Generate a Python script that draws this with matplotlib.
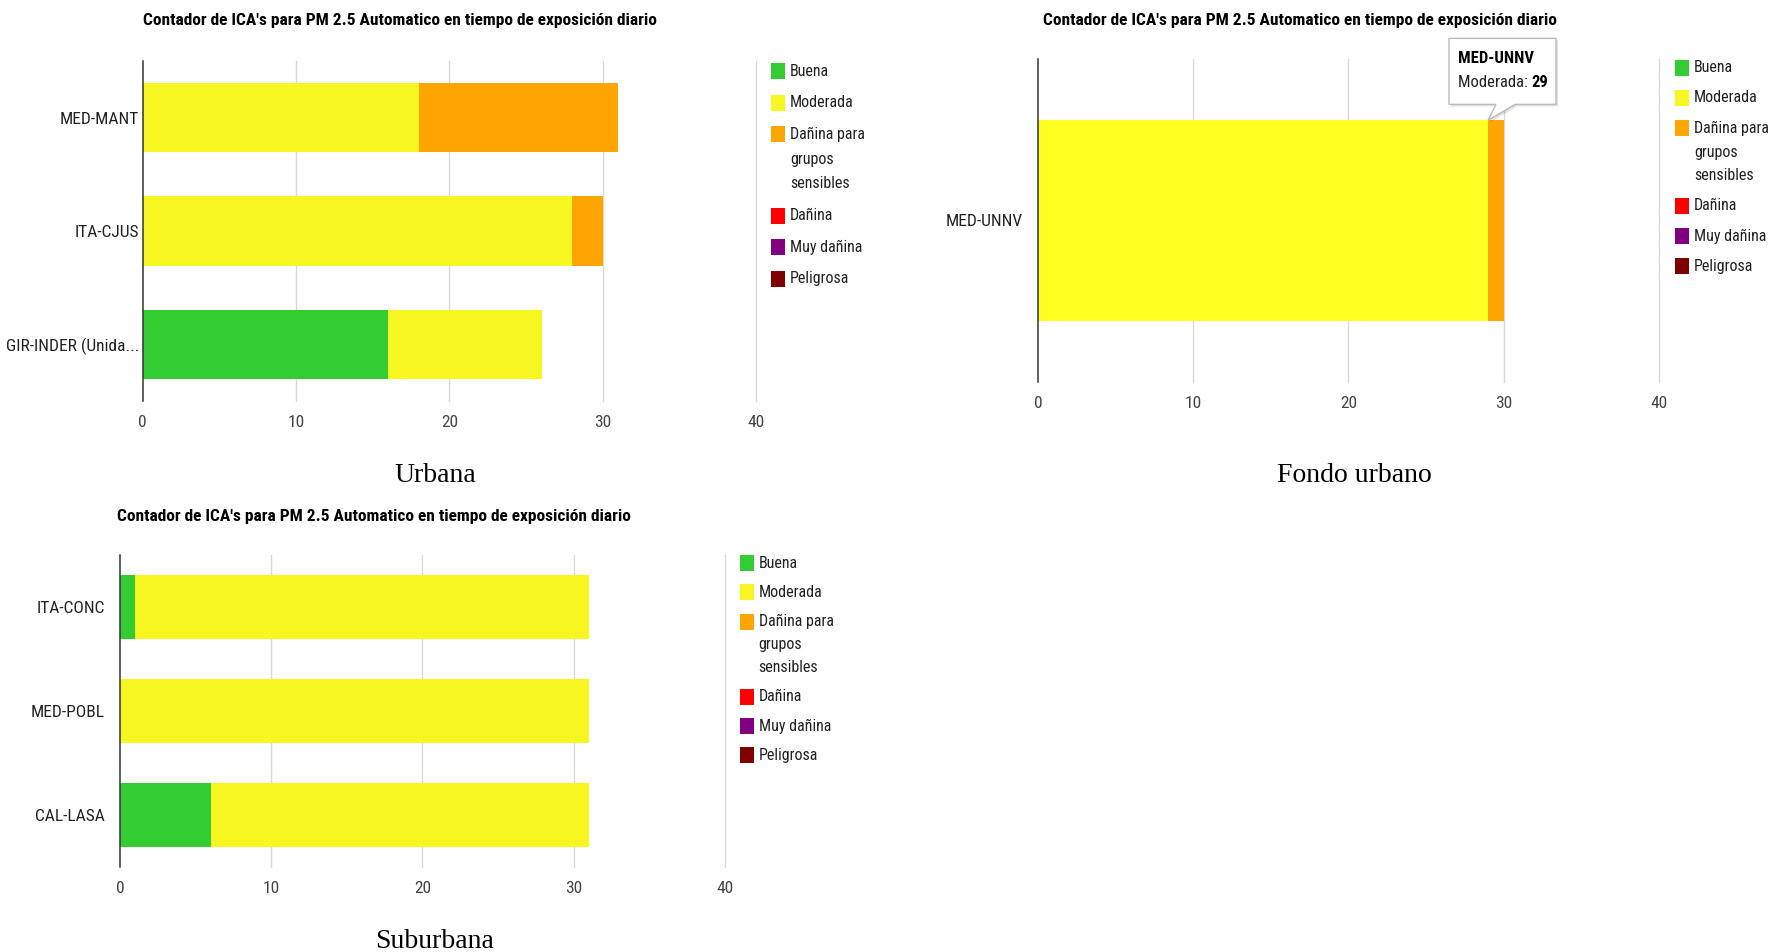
import matplotlib
matplotlib.use('Agg')
import matplotlib.pyplot as plt
import numpy as np
from matplotlib.patches import Rectangle, Polygon
from matplotlib.transforms import IdentityTransform

W, H = 1773, 952
SANS = ['Roboto Condensed', 'Arial Narrow', 'Fira Sans Condensed', 'Liberation Sans']
SERIF = ['Liberation Serif', 'DejaVu Serif']

# ICA categories (legend order) and colours
legend_labels = ['Buena', 'Moderada', 'Dañina para\ngrupos\nsensibles', 'Dañina', 'Muy dañina', 'Peligrosa']
colors = ['#33cc33', '#f6f620', '#ffa500', '#ff0000', '#800080', '#800000']
colors_hover = ['#33cc33', '#ffff22', '#ffa500', '#ff0000', '#800080', '#800000']
title = "Contador de ICA's para PM 2.5 Automatico en tiempo de exposición diario"
xticks = [0, 10, 20, 30, 40]

# Urbana
urb_stations = ['MED-MANT', 'ITA-CJUS', 'GIR-INDER (Unida...']
urb_buena = [0, 0, 16]
urb_moderada = [18, 28, 10]
urb_sensibles = [13, 2, 0]
urb_danina = [0, 0, 0]
urb_muy = [0, 0, 0]
urb_peligrosa = [0, 0, 0]

# Fondo urbano
fon_stations = ['MED-UNNV']
fon_buena = [0]
fon_moderada = [29]
fon_sensibles = [1]
fon_danina = [0]
fon_muy = [0]
fon_peligrosa = [0]

# Suburbana
sub_stations = ['ITA-CONC', 'MED-POBL', 'CAL-LASA']
sub_buena = [1, 0, 6]
sub_moderada = [30, 31, 25]
sub_sensibles = [0, 0, 0]
sub_danina = [0, 0, 0]
sub_muy = [0, 0, 0]
sub_peligrosa = [0, 0, 0]

fig = plt.figure(figsize=(W / 100, H / 100), dpi=100)
fig.patch.set_facecolor('white')


def fx(x):
    return x / W


def fy(y):
    return 1 - y / H


def draw_legend(sq_x, txt_x, y0, row_step, line_step):
    y = y0
    for lab, col in zip(legend_labels, colors):
        fig.patches.append(Rectangle((fx(sq_x), fy(y + 8)), 14 / W, 16 / H, transform=fig.transFigure,
                                     facecolor=col, edgecolor='none'))
        lines = lab.split('\n')
        for k, ln in enumerate(lines):
            fig.text(fx(txt_x), fy(y + k * line_step), ln, family=SANS, fontsize=11.5,
                     color='#222222', ha='left', va='center')
        y += row_step + (len(lines) - 1) * line_step


def draw_panel(rect, stations, series, palette, bar_h, ypad, title_xy, legend_cfg, caption, caption_xy):
    left, top, right, bottom = rect
    ax = fig.add_axes([fx(left), fy(bottom), fx(right - left), (bottom - top) / H])
    yy = np.arange(len(stations))
    acc = np.zeros(len(stations))
    for vals, col in zip(series, palette):
        vals = np.array(vals, dtype=float)
        ax.barh(yy, vals, left=acc, height=bar_h, color=col, linewidth=0, zorder=2)
        acc += vals
    ax.set_xlim(0, 40)
    ax.set_ylim(len(stations) - 0.5, -0.5)
    ax.set_xticks(xticks)
    ax.set_xticklabels([str(t) for t in xticks], family=SANS, fontsize=12.5, color='#444444')
    ax.set_yticks(yy)
    ax.set_yticklabels(stations, family=SANS, fontsize=12.5, color='#222222')
    ax.tick_params(axis='x', length=0, pad=10)
    ax.tick_params(axis='y', length=0, pad=ypad)
    for s in ax.spines.values():
        s.set_visible(False)
    for t in xticks[1:]:
        ax.axvline(t, color='#d9d9d9', lw=1, zorder=1, clip_on=False)
    ax.axvline(0, color='#333333', lw=1.1, zorder=3, clip_on=False)
    ax.set_facecolor('none')
    fig.text(fx(title_xy[0]), fy(title_xy[1]), title, family=SANS, fontsize=12.5, fontweight='bold',
             color='#000000', ha='center', va='center')
    draw_legend(*legend_cfg)
    fig.text(fx(caption_xy[0]), fy(caption_xy[1]), caption, family=SERIF, fontsize=20,
             color='#000000', ha='center', va='center')
    return ax


ax_u = draw_panel((142.5, 61, 756.4, 401), urb_stations,
                  [urb_buena, urb_moderada, urb_sensibles, urb_danina, urb_muy, urb_peligrosa], colors,
                  0.61, 2.5, (400, 20), (771, 790, 71, 31.6, 24.9), 'Urbana', (435, 476))

ax_f = draw_panel((1038, 59, 1658.7, 382), fon_stations,
                  [fon_buena, fon_moderada, fon_sensibles, fon_danina, fon_muy, fon_peligrosa], colors_hover,
                  0.62, 11, (1300, 20), (1674.5, 1694, 68, 30, 24), 'Fondo urbano', (1354.6, 476))

ax_s = draw_panel((120, 555, 724.8, 867), sub_stations,
                  [sub_buena, sub_moderada, sub_sensibles, sub_danina, sub_muy, sub_peligrosa], colors,
                  0.61, 11, (374, 517), (739.5, 758.7, 563, 29.3, 23), 'Suburbana', (435, 941))

# tooltip over the Moderada segment of MED-UNNV
tip = ax_f.transData.transform((fon_buena[0] + fon_moderada[0], -0.31))
tx, ty = tip  # display coords (origin bottom-left)
box = [(-39, 82), (68, 82), (68, 16), (27, 16), (0, 0), (8, 16), (-39, 16)]
shadow = Polygon([(tx + dx + 2, ty + dy - 2) for dx, dy in box], closed=True, transform=IdentityTransform(),
                 facecolor='#000000', alpha=0.12, edgecolor='none', zorder=5)
bubble = Polygon([(tx + dx, ty + dy) for dx, dy in box], closed=True, transform=IdentityTransform(),
                 facecolor='white', edgecolor='#bbbbbb', lw=1, zorder=6)
fig.add_artist(shadow)
fig.add_artist(bubble)
fig.text(fx(tx - 30), (ty + 62) / H, fon_stations[0], family=SANS, fontsize=12, fontweight='bold',
         color='#000000', ha='left', va='center', zorder=7)
t1 = fig.text(fx(tx - 30), (ty + 38) / H, 'Moderada: ', family=SANS, fontsize=12,
              color='#222222', ha='left', va='center', zorder=7)
fig.canvas.draw()
bb = t1.get_window_extent()
fig.text(bb.x1 / W, (ty + 38) / H, str(fon_moderada[0]), family=SANS, fontsize=12, fontweight='bold',
         color='#000000', ha='left', va='center', zorder=7)

fig.savefig('out.png', dpi=100)
